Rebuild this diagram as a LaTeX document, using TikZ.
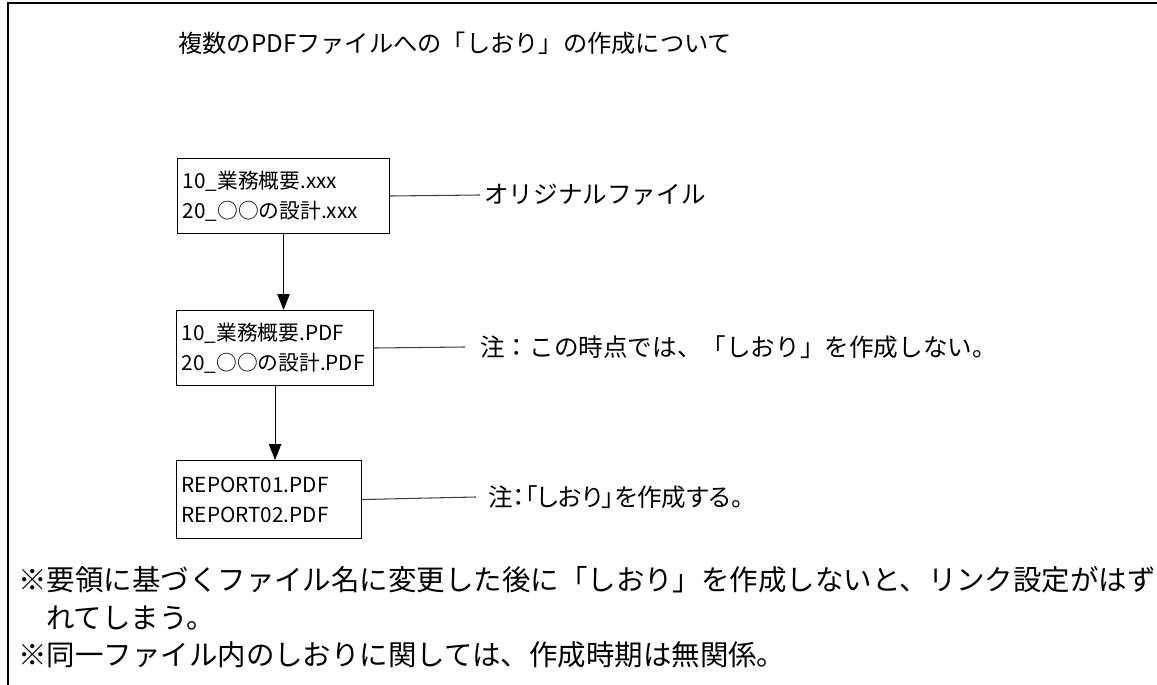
\documentclass[tikz,border=0pt]{standalone}
\usepackage{fontspec}
\setmainfont{Noto Sans CJK JP}
\newfontfamily\jpsans{Noto Sans CJK JP}
\newfontfamily\jppalt{Noto Sans CJK JP}[RawFeature=+palt]
\usetikzlibrary{arrows.meta,positioning}

\begin{document}
\begin{tikzpicture}
[x=0.02cm,y=-0.02cm,every node/.style={inner sep=0pt},
 filebox/.style={draw,line width=0.6pt,anchor=north west,align=left,
   inner xsep=3pt,text width=#1,font=\jpsans\fontsize{11.8}{17}\selectfont},
 note/.style={anchor=west,font=\jpsans\fontsize{14}{16}\selectfont},
 remark/.style={anchor=west,font=\jpsans\fontsize{16.2}{18}\selectfont},
 link/.style={line width=0.6pt,black!75},
 flow/.style={line width=0.6pt,-{Triangle[width=7pt,length=9pt]}}]
\useasboundingbox (0,0) rectangle (1157,685);
\draw[line width=1.1pt] (8,685) -- (8,3) -- (1157,3);
\node[anchor=west,font=\jpsans\fontsize{13.8}{16}\selectfont] (title) at (178,43)
  {複数のPDFファイルへの「しおり」の作成について};
\node[filebox=4.03cm,minimum height=1.5cm] (src) at (177,158)
  {10\_業務概要.xxx\\20\_○○の設計.xxx};
\node[filebox=3.73cm,minimum height=1.5cm] (pdf) at (176,310)
  {10\_業務概要.PDF\\20\_○○の設計.PDF};
\node[filebox=3.49cm,minimum height=1.56cm] (rep) at (176,460)
  {REPORT01.PDF\\REPORT02.PDF};
\coordinate (c1) at (480,195);
\coordinate (c2) at (465,347);
\coordinate (c3) at (476,497);
\node[note] (n1) at (484,195) {オリジナルファイル};
\node[note] (n2) at (480,347) {注：この時点では、「しおり」を作成しない。};
\node[note,font=\jppalt\fontsize{14}{16}\selectfont] (n3) at (488,497) {注：「しおり」を作成する。};
\draw[link] (src.east) -- (c1);
\draw[link] (pdf.east) -- (c2);
\draw[link] (rep.east) -- (c3);
\draw[flow] (src.south) -- (src.south |- pdf.north);
\draw[flow] (pdf.south) -- (pdf.south |- rep.north);
\node[remark] (r1) at (18,580)
  {※要領に基づくファイル名に変更した後に「しおり」を作成しないと、リンク設定がはず};
\node[remark] (r2) at (46,618) {れてしまう。};
\node[remark] (r3) at (18,655) {※同一ファイル内のしおりに関しては、作成時期は無関係。};
\end{tikzpicture}
\end{document}
